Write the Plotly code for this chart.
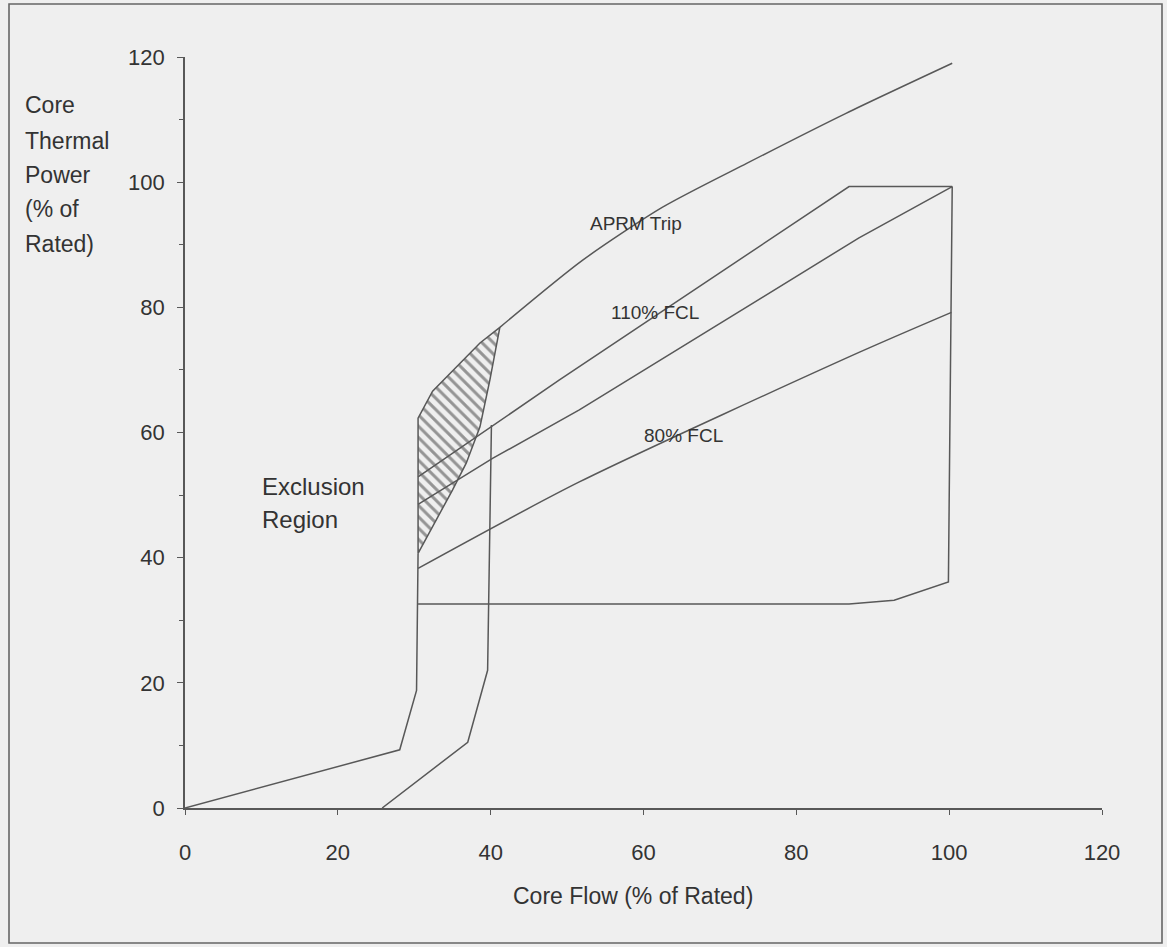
import plotly.graph_objects as go

# ---------------- data ----------------
aprm_x = [41.2, 52.0, 62.5, 73.5, 86.5, 100.4]
aprm_y = [76.8, 87.5, 96.0, 103.0, 111.0, 119.0]

fcl110_x = [30.5, 49.0, 86.9, 100.4]
fcl110_y = [52.9, 68.4, 99.3, 99.3]

fclmid_x = [30.5, 40.3, 51.6, 88.2, 100.4]
fclmid_y = [48.5, 55.9, 63.6, 91.1, 99.3]

fcl80_x = [30.5, 51.6, 88.2, 100.3]
fcl80_y = [38.3, 52.1, 72.8, 79.2]

buffer_x = [30.5, 30.5, 32.4, 38.6, 41.2, 39.9, 38.6, 36.8, 35.0, 30.5]
buffer_y = [40.7, 62.3, 66.6, 74.3, 76.8, 68.4, 60.9, 55.1, 50.8, 40.7]

excl_left_x = [0.0, 28.1, 30.3, 30.5]
excl_left_y = [0.0, 9.3, 18.8, 40.7]

excl_right_x = [25.8, 37.0, 39.6, 40.1]
excl_right_y = [0.0, 10.5, 22.0, 61.2]

minpower_x = [30.5, 86.9, 92.8, 99.9, 100.4]
minpower_y = [32.6, 32.6, 33.2, 36.1, 99.3]

x_ticks = [0, 20, 40, 60, 80, 100, 120]
y_ticks = [0, 20, 40, 60, 80, 100, 120]

line_labels = ["APRM Trip", "110% FCL", "80% FCL"]
region_label = ["Exclusion", "Region"]
y_title_lines = ["Core", "Thermal", "Power", "(% of", "Rated)"]
x_title = "Core Flow (% of Rated)"

# ---------------- styling ----------------
FONT = "Liberation Sans, Arial, sans-serif"
TXT = "#333333"
LINE = "#585858"
BG = "#efefef"
LW = 1.5

W, H = 1167, 947
ML, MR, MT, MB = 185, 65, 57, 139
PW, PH = W - ML - MR, H - MT - MB


def px2paper(px, py):
    return (px - ML) / PW, (H - MB - py) / PH


fig = go.Figure()

# hatched band
fig.add_trace(go.Scatter(
    x=buffer_x, y=buffer_y, mode="lines", fill="toself",
    line=dict(color=LINE, width=LW),
    fillcolor="rgba(0,0,0,0)",
    fillpattern=dict(shape="\\", size=8, solidity=0.38,
                     fgcolor="#3a3a3a", bgcolor="rgba(0,0,0,0)"),
    hoverinfo="skip", showlegend=False))

# smooth curves
for xs, ys in [(aprm_x, aprm_y), (fcl80_x, fcl80_y)]:
    fig.add_trace(go.Scatter(x=xs, y=ys, mode="lines",
                             line=dict(color=LINE, width=LW, shape="spline", smoothing=0.7),
                             hoverinfo="skip", showlegend=False))

for xs, ys in [(fcl110_x, fcl110_y), (fclmid_x, fclmid_y),
               (excl_left_x, excl_left_y),
               (excl_right_x, excl_right_y), (minpower_x, minpower_y)]:
    fig.add_trace(go.Scatter(x=xs, y=ys, mode="lines",
                             line=dict(color=LINE, width=LW),
                             hoverinfo="skip", showlegend=False))

annotations = []
# labels on lines
for txt, (px, py), size in zip(line_labels,
                                [(636, 224), (655, 312), (683, 435)],
                                [19, 19, 19]):
    xp, yp = px2paper(px, py)
    annotations.append(dict(text=txt, x=xp, y=yp, xref="paper", yref="paper",
                            showarrow=False, xanchor="center", yanchor="middle",
                            font=dict(family=FONT, size=size, color=TXT)))
# Exclusion Region
for txt, py in zip(region_label, [487, 519]):
    xp, yp = px2paper(260, py)
    annotations.append(dict(text=txt, x=xp, y=yp, xref="paper", yref="paper",
                            showarrow=False, xanchor="left", yanchor="middle",
                            font=dict(family=FONT, size=24, color=TXT)))
# y title lines
for txt, py in zip(y_title_lines, [105, 141, 175, 209, 244]):
    xp, yp = px2paper(23, py)
    annotations.append(dict(text=txt, x=xp, y=yp, xref="paper", yref="paper",
                            showarrow=False, xanchor="left", yanchor="middle",
                            font=dict(family=FONT, size=23, color=TXT)))
# x title
xp, yp = px2paper(633, 896)
annotations.append(dict(text=x_title, x=xp, y=yp, xref="paper", yref="paper",
                        showarrow=False, xanchor="center", yanchor="middle",
                        font=dict(family=FONT, size=23, color=TXT)))

# outer frame
x0, y0 = px2paper(9, 4)
x1, y1 = px2paper(1162, 943)
shapes = [dict(type="rect", xref="paper", yref="paper", x0=x0, y0=y1, x1=x1, y1=y0,
               line=dict(color="#666666", width=1.6), layer="below")]

fig.update_layout(
    width=W, height=H,
    margin=dict(l=ML, r=MR, t=MT, b=MB, pad=0),
    paper_bgcolor=BG, plot_bgcolor=BG,
    font=dict(family=FONT, color=TXT),
    annotations=annotations, shapes=shapes,
    showlegend=False,
    xaxis=dict(range=[0, 120], tickvals=x_ticks, ticktext=[str(v) for v in x_ticks],
               showgrid=False, zeroline=False, showline=True,
               linecolor=LINE, linewidth=1.6, ticks="outside", ticklen=5,
               tickcolor=LINE, tickwidth=1.3, ticklabelstandoff=19,
               tickfont=dict(family=FONT, size=22, color=TXT)),
    yaxis=dict(range=[0, 120], tickvals=y_ticks, ticktext=[str(v) for v in y_ticks],
               showgrid=False, zeroline=False, showline=True,
               linecolor=LINE, linewidth=1.6, ticks="outside", ticklen=6,
               tickcolor=LINE, tickwidth=1.3, ticklabelstandoff=8,
               minor=dict(dtick=10, ticks="outside", ticklen=4, tickcolor=LINE),
               tickfont=dict(family=FONT, size=22, color=TXT)),
)

fig.write_html("out.html")
